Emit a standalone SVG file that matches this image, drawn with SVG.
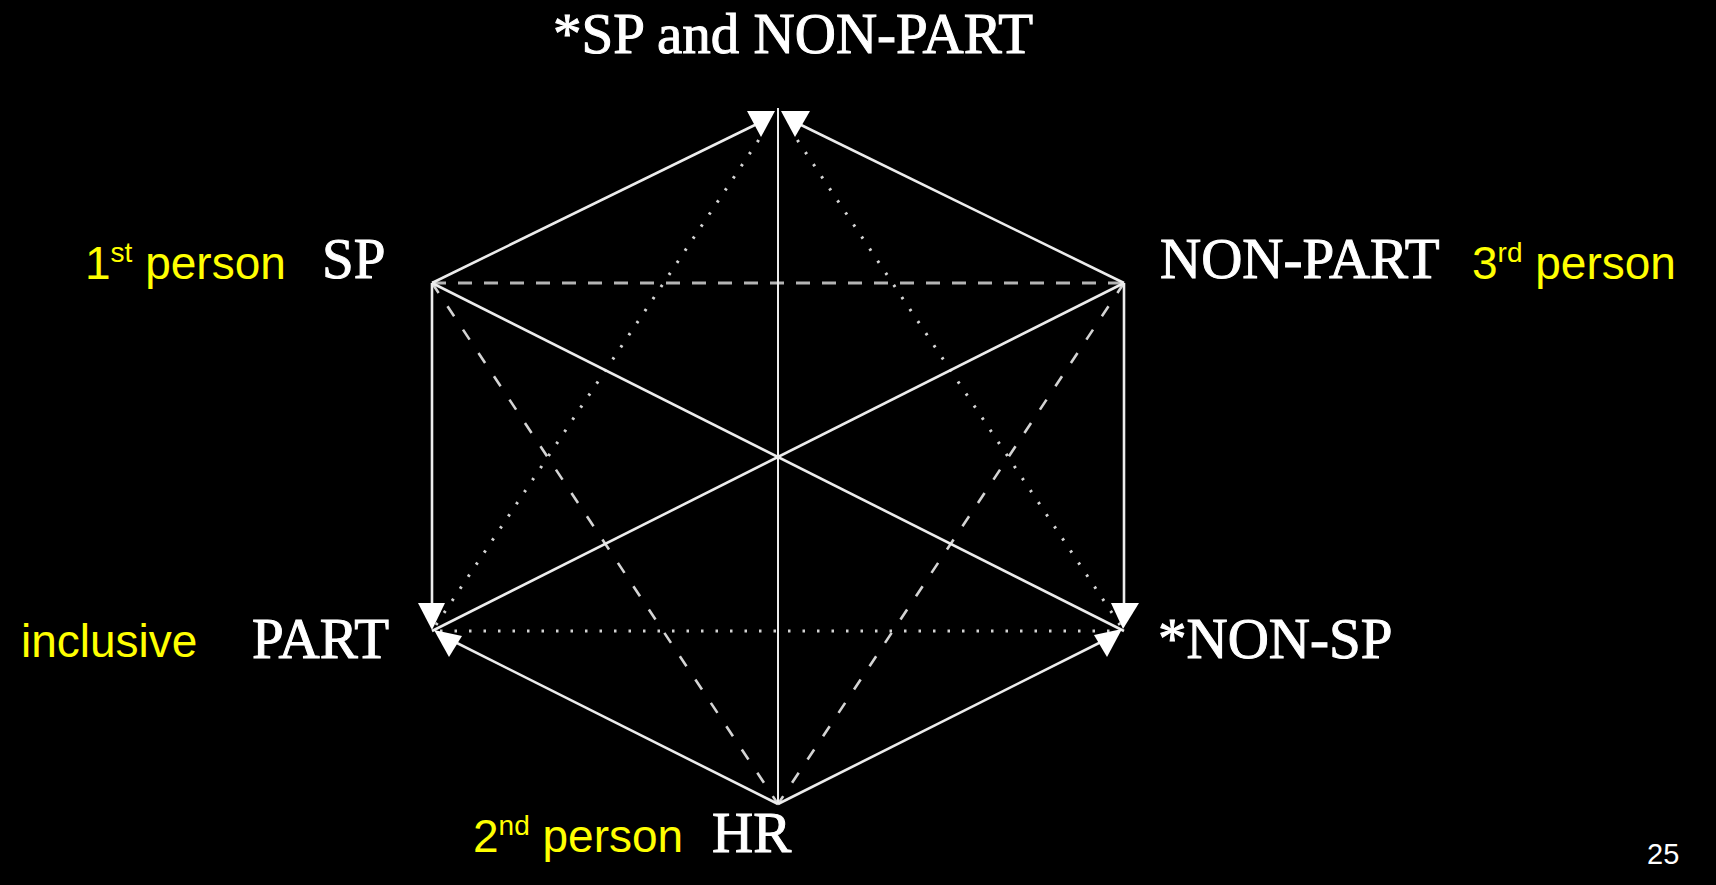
<svg xmlns="http://www.w3.org/2000/svg" width="1716" height="885" viewBox="0 0 1716 885">
<style>
.s{stroke:#ececec;stroke-width:2.6;fill:none}
.d{stroke:#b4b4b4;stroke-width:3.2;fill:none;stroke-dasharray:14 12}
.dd{stroke:#d4d4d4;stroke-width:2.6;fill:none;stroke-dasharray:12 16}
.o{stroke:#d4d4d4;stroke-width:3;fill:none;stroke-dasharray:2.5 12;stroke-linecap:butt}
.ah{fill:#ffffff}
.n{font-family:"Liberation Serif","Times New Roman",serif;font-size:57px;fill:#ffffff;stroke:#ffffff;stroke-width:1}
.y{font-family:"Liberation Sans",Arial,sans-serif;font-size:46px;fill:#ffff00}
</style>
<rect width="1716" height="885" fill="#000000"/>
<g id="connectors">
<line class="d" x1="432" y1="283" x2="1124" y2="283"/>
<line class="dd" x1="432" y1="283" x2="778" y2="804"/>
<line class="dd" x1="1124" y1="283" x2="778" y2="804"/>
<line class="o" x1="436" y1="625" x2="764" y2="132"/>
<line class="o" x1="1120" y1="625" x2="792" y2="132"/>
<line class="o" x1="440" y1="631" x2="1116" y2="631"/>
<line class="s" x1="432" y1="283" x2="761" y2="122"/>
<line class="s" x1="1124" y1="283" x2="795" y2="122"/>
<line class="s" x1="778" y1="108" x2="778" y2="804" style="stroke-width:2"/>
<line class="s" x1="432" y1="283" x2="432" y2="615"/>
<line class="s" x1="1124" y1="283" x2="1124" y2="615"/>
<line class="s" x1="778" y1="804" x2="445" y2="637"/>
<line class="s" x1="778" y1="804" x2="1111" y2="637"/>
<line class="s" x1="432" y1="283" x2="1124" y2="631"/>
<line class="s" x1="1124" y1="283" x2="432" y2="631"/>
<polygon class="ah" points="747,111 775,111 761,137"/>
<polygon class="ah" points="781,111 810,111 795,137"/>
<polygon class="ah" points="418,603 445,603 432,630"/>
<polygon class="ah" points="434,630 462,636 449,657"/>
<polygon class="ah" points="1111,603 1139,603 1123,629"/>
<polygon class="ah" points="1122,629 1094,635 1107,657"/>
</g>
<g id="top"><text class="n" x="553" y="53">*SP and NON-PART</text></g>
<g id="sp"><text class="n" x="322" y="278">SP</text></g>
<g id="nonpart"><text class="n" x="1160" y="278">NON-PART</text></g>
<g id="part"><text class="n" x="252" y="658">PART</text></g>
<g id="nonsp"><text class="n" x="1158" y="658">*NON-SP</text></g>
<g id="hr"><text class="n" x="712" y="852">HR</text></g>
<g id="labels">
<text class="y" x="85" y="279">1<tspan font-size="28" dy="-17">st</tspan><tspan dy="17"> person</tspan></text>
<text class="y" x="1472" y="279">3<tspan font-size="28" dy="-17">rd</tspan><tspan dy="17"> person</tspan></text>
<text class="y" x="21" y="657">inclusive</text>
<text class="y" x="473" y="852">2<tspan font-size="28" dy="-17">nd</tspan><tspan dy="17"> person</tspan></text>
<text x="1647" y="864" font-family="Liberation Sans, Arial, sans-serif" font-size="29" fill="#ffffff">25</text>
</g>
</svg>
